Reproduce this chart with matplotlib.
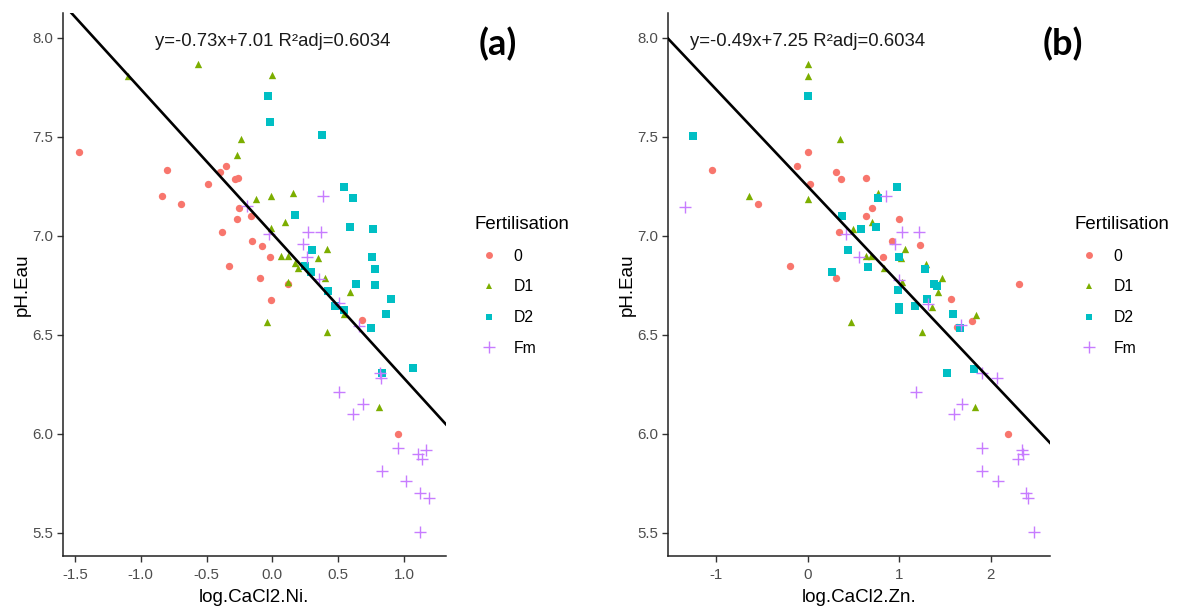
import matplotlib
matplotlib.use("Agg")
import matplotlib.pyplot as plt
from matplotlib.lines import Line2D
import numpy as np

plt.rcParams['font.family'] = ['Liberation Sans', 'DejaVu Sans']

# groups / colours (ggplot hue)
groups = ['0', 'D1', 'D2', 'Fm']
colors = ['#F8766D', '#7CAE00', '#00BFC4', '#C77CFF']
markers = ['o', '^', 's', '+']

# panel (a): log.CaCl2.Ni.
ni_0_x = [-1.467, -0.803, -0.841, -0.695, -0.487, -0.398, -0.350, -0.284, -0.259, -0.254, -0.272, -0.163, -0.380, -0.155, -0.077, -0.016, -0.330, -0.094, 0.121, -0.008, 0.683, 0.952]
ni_0_y = [7.423, 7.330, 7.200, 7.162, 7.259, 7.323, 7.350, 7.285, 7.293, 7.141, 7.082, 7.101, 7.017, 6.971, 6.949, 6.894, 6.847, 6.788, 6.756, 6.677, 6.572, 5.997]
ni_d1_x = [-1.100, -0.568, 0.000, -0.239, -0.269, -0.127, -0.011, 0.154, -0.013, 0.098, 0.063, 0.119, 0.412, 0.344, 0.174, 0.195, 0.402, 0.116, 0.592, -0.044, 0.415, 0.546, 0.809]
ni_d1_y = [7.806, 7.869, 7.810, 7.487, 7.406, 7.185, 7.199, 7.215, 7.037, 7.069, 6.899, 6.899, 6.933, 6.886, 6.860, 6.835, 6.788, 6.768, 6.715, 6.564, 6.515, 6.604, 6.135]
ni_d2_x = [-0.036, -0.021, 0.379, 0.547, 0.615, 0.172, 0.587, 0.762, 0.301, 0.754, 0.782, 0.248, 0.291, 0.635, 0.782, 0.425, 0.901, 0.863, 0.476, 0.542, 0.747, 0.833, 1.069]
ni_d2_y = [7.704, 7.574, 7.507, 7.246, 7.190, 7.103, 7.044, 7.034, 6.926, 6.894, 6.833, 6.848, 6.815, 6.756, 6.749, 6.722, 6.680, 6.603, 6.646, 6.624, 6.534, 6.305, 6.330]
ni_fm_x = [0.385, -0.196, -0.023, 0.273, 0.372, 0.235, 0.260, 0.354, 0.504, 0.658, 0.818, 0.826, 0.504, 0.686, 0.612, 0.954, 1.106, 1.165, 1.134, 0.830, 1.015, 1.122, 1.193, 1.122]
ni_fm_y = [7.200, 7.151, 7.007, 7.020, 7.020, 6.960, 6.894, 6.780, 6.662, 6.545, 6.308, 6.279, 6.209, 6.150, 6.101, 5.929, 5.896, 5.917, 5.872, 5.813, 5.761, 5.700, 5.677, 5.503]

# panel (b): log.CaCl2.Zn.
zn_0_x = [-1.045, -0.536, -0.114, 0.000, 0.031, 0.311, 0.365, 0.634, 0.707, 0.634, 1.001, 0.340, 0.921, 1.230, 0.820, -0.194, 0.311, 2.303, 1.568, 1.794, 1.634, 2.190]
zn_0_y = [7.330, 7.160, 7.350, 7.423, 7.259, 7.323, 7.285, 7.291, 7.140, 7.101, 7.082, 7.017, 6.971, 6.951, 6.894, 6.847, 6.788, 6.756, 6.680, 6.571, 6.540, 5.997]
zn_d1_x = [0.000, 0.000, 0.358, -0.634, 0.005, 0.769, 0.496, 0.707, 0.638, 0.692, 1.063, 1.023, 0.838, 1.289, 1.463, 1.027, 1.419, 1.361, 0.470, 1.249, 1.838, 1.830]
zn_d1_y = [7.867, 7.808, 7.487, 7.199, 7.185, 7.214, 7.035, 7.069, 6.899, 6.899, 6.931, 6.886, 6.835, 6.857, 6.788, 6.768, 6.714, 6.641, 6.564, 6.515, 6.598, 6.135]
zn_d2_x = [-1.245, 0.000, 0.380, 0.580, 0.976, 0.765, 0.750, 0.438, 0.663, 0.267, 0.996, 1.278, 0.983, 1.376, 1.416, 1.307, 1.001, 1.001, 1.172, 1.583, 1.667, 1.518, 1.812]
zn_d2_y = [7.503, 7.704, 7.101, 7.032, 7.246, 7.189, 7.044, 6.926, 6.843, 6.815, 6.892, 6.830, 6.724, 6.758, 6.747, 6.680, 6.641, 6.624, 6.645, 6.603, 6.534, 6.306, 6.328]
zn_fm_x = [-1.336, 0.852, 0.423, 1.027, 1.216, 0.954, 0.558, 1.001, 1.310, 1.670, 1.907, 2.063, 1.183, 1.681, 1.594, 1.900, 2.339, 2.299, 2.354, 1.907, 2.081, 2.379, 2.408, 2.474]
zn_fm_y = [7.146, 7.199, 7.007, 7.020, 7.020, 6.960, 6.892, 6.778, 6.653, 6.547, 6.305, 6.279, 6.209, 6.150, 6.101, 5.929, 5.917, 5.870, 5.896, 5.811, 5.761, 5.699, 5.675, 5.503]

# regression fits shown on the chart
ni_slope, ni_icpt = -0.73, 7.01
zn_slope, zn_icpt = -0.49, 7.25
ni_label = 'y=-0.73x+7.01 R\u00b2adj=0.6034'
zn_label = 'y=-0.49x+7.25 R\u00b2adj=0.6034'

ni_xticks = [-1.5, -1.0, -0.5, 0.0, 0.5, 1.0]
ni_xticklabels = ['-1.5', '-1.0', '-0.5', '0.0', '0.5', '1.0']
zn_xticks = [-1, 0, 1, 2]
zn_xticklabels = ['-1', '0', '1', '2']
yticks = [5.5, 6.0, 6.5, 7.0, 7.5, 8.0]
yticklabels = ['5.5', '6.0', '6.5', '7.0', '7.5', '8.0']

W, H = 1184, 608
fig = plt.figure(figsize=(W / 100, H / 100), dpi=100)

def panel(rect, xs, ys, slope, icpt, eq, xlim, xticks, xtl, xlabel, tag, tagx, legx):
    ax = fig.add_axes(rect)
    for gx, gy, c, m in zip(xs, ys, colors, markers):
        if m == '+':
            ax.scatter(gx, gy, marker='+', s=75, color=c, linewidths=1.0, zorder=2)
        else:
            ax.scatter(gx, gy, marker=m, s=28, color=c, linewidths=0, zorder=2)
    lx = np.array(xlim)
    ax.plot(lx, slope * lx + icpt, color='black', lw=1.9, zorder=3)
    ax.text(0, 7.98, eq, ha='center', va='center', fontsize=13.3, color='#1a1a1a')
    ax.set_xlim(xlim)
    ax.set_ylim(5.384, 8.123)
    ax.set_xticks(xticks)
    ax.set_xticklabels(xtl)
    ax.set_yticks(yticks)
    ax.set_yticklabels(yticklabels)
    for s in ['top', 'right']:
        ax.spines[s].set_visible(False)
    for s in ['left', 'bottom']:
        ax.spines[s].set_linewidth(1.1)
        ax.spines[s].set_color('#222222')
    ax.tick_params(direction='out', length=4, width=1.0, color='#333333',
                   labelsize=10.8, labelcolor='#4D4D4D')
    ax.tick_params(axis='x', pad=5)
    ax.tick_params(axis='y', pad=3)
    ax.set_xlabel(xlabel, fontsize=13.5, color='black', labelpad=5)
    ax.set_ylabel('pH.Eau', fontsize=13.5, color='black', labelpad=1)
    fig.text(tagx / W, 1 - 44 / H, tag, ha='center', va='center',
             fontsize=26, fontweight='bold', family=['Lato', 'DejaVu Sans'])
    handles = []
    for g, c, m in zip(groups, colors, markers):
        if m == '+':
            handles.append(Line2D([], [], ls='none', marker='+', ms=9, mew=1.0, color=c, label=g))
        else:
            handles.append(Line2D([], [], ls='none', marker=m, ms=5, mew=0, color=c, label=g))
    ax.legend(handles=handles, loc='upper left',
              bbox_to_anchor=(legx / W, 1 - 216 / H), bbox_transform=fig.transFigure,
              frameon=False, title='Fertilisation', alignment='left',
              fontsize=11.3, title_fontsize=13.4, borderpad=0, borderaxespad=0,
              handlelength=1.75, handletextpad=0.7, labelspacing=1.0)
    return ax

panel([62.7 / W, 1 - 555.7 / H, 383.3 / W, 542.4 / H],
      [ni_0_x, ni_d1_x, ni_d2_x, ni_fm_x], [ni_0_y, ni_d1_y, ni_d2_y, ni_fm_y],
      ni_slope, ni_icpt, ni_label, (-1.593, 1.319), ni_xticks, ni_xticklabels,
      'log.CaCl2.Ni.', '(a)', 498, 475)

panel([667.7 / W, 1 - 555.7 / H, 382.3 / W, 542.4 / H],
      [zn_0_x, zn_d1_x, zn_d2_x, zn_fm_x], [zn_0_y, zn_d1_y, zn_d2_y, zn_fm_y],
      zn_slope, zn_icpt, zn_label, (-1.525, 2.645), zn_xticks, zn_xticklabels,
      'log.CaCl2.Zn.', '(b)', 1062.5, 1075)

fig.savefig('out.png', dpi=100)
